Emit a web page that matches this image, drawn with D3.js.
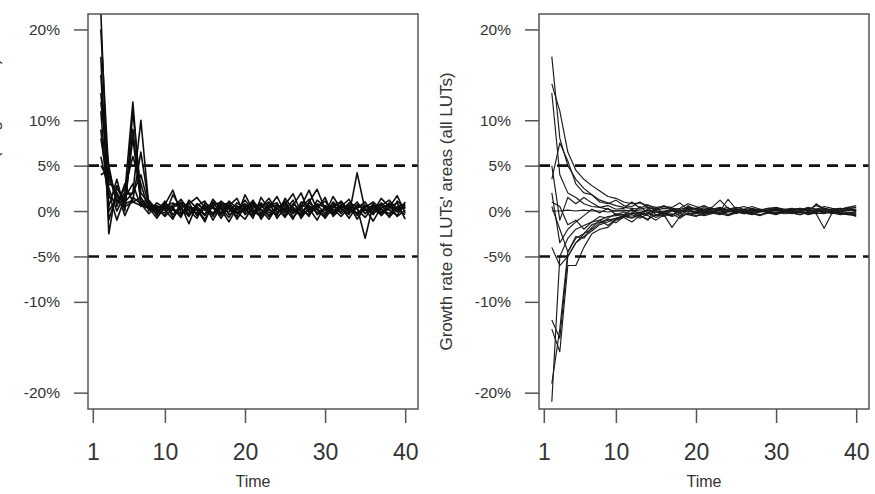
<!DOCTYPE html>
<html>
<head>
<meta charset="utf-8">
<script src="https://cdn.jsdelivr.net/npm/d3@7"></script>
<style>
body { margin: 0; background: #fff; }
svg { display: block; font-family: "Liberation Sans", Arial, sans-serif; }
</style>
</head>
<body>
<svg id="chart"></svg>
<script>
// time steps (growth rate from step t-1 to t)
const timeSteps = [2,3,4,5,6,7,8,9,10,11,12,13,14,15,16,17,18,19,20,21,
  22,23,24,25,26,27,28,29,30,31,32,33,34,35,36,37,38,39,40];
const xTicks = [1, 10, 20, 30, 40];
const yTicks = [-20, -10, -5, 0, 5, 10, 20];
const thresholds = [5, -5];

// left panel: growth rate per LUT (%)
const leftRates = [
  [22,-1.0,2.0,0.5,1.0,0.6,0.3,0.2,-0.5,1.8, 0.3,-0.6,0.8,0.1,-0.4,0.6,0.9,-0.2,0.4,-0.8, 1.5,0.2,-0.3,0.7,1.9,-0.1,0.5,0.3,-0.6,1.0, 0.2,-0.4,4.2,0.1,-0.3,0.6,1.2,0.2,0.5],
  [20,4.0,1.0,2.0,12.0,1.0,0.5,-0.3,0.8,0.4, -0.7,1.2,0.3,-0.5,0.9,-0.2,0.6,1.4,-0.4,0.3, 0.8,-0.6,0.2,1.1,-0.3,0.5,2.3,0.1,-0.5,0.6, 0.9,-0.2,0.4,-3.0,0.7,0.2,-0.6,1.1,0.3],
  [13,3.0,2.5,1.0,2.0,10.0,0.5,0.6,0.1,-0.9, 1.0,0.4,-0.3,0.7,-1.0,0.5,0.2,-0.6,1.8,0.1, -0.4,0.9,0.3,-0.7,0.6,2.0,-0.2,0.8,0.4,-0.3, 0.5,1.3,-0.5,0.6,0.2,-0.4,0.9,-0.1,0.7],
  [12,5.0,0.5,3.0,1.0,1.5,0.2,-0.2,1.1,-0.4, 0.6,-1.4,0.8,0.2,0.5,-0.5,1.1,0.3,-0.2,0.9, -0.9,0.4,1.6,-0.2,0.3,-0.6,1.0,2.4,0.2,-0.4, 0.6,0.1,1.0,-0.3,0.8,-0.5,0.4,1.7,-0.2],
  [9,0.5,3.5,0.0,11.0,2.0,0.8,0.4,-0.6,0.3, 1.3,0.1,-0.8,0.9,0.3,-0.3,0.7,-0.9,0.5,1.0, 0.2,-0.5,0.6,0.1,1.2,-0.8,0.4,0.2,1.5,-0.6, 0.3,0.7,-0.9,0.4,1.0,0.2,-0.3,0.5,0.8],
  [6,2.0,-1.0,1.5,3.0,0.5,1.0,-0.5,0.7,2.3, -0.2,0.5,0.1,-0.9,0.6,1.0,-0.4,0.2,0.8,-0.3, 0.5,1.0,-0.8,0.4,-0.2,0.7,0.3,-1.0,0.6,0.2, -0.6,0.4,0.3,1.0,-0.4,0.9,0.1,-0.5,1.0],
  [15,1.5,1.0,2.5,6.0,3.0,0.0,0.9,0.3,0.1, -0.5,0.8,1.5,0.4,-0.2,0.3,-0.7,0.6,0.0,1.2, -0.3,0.6,0.9,-0.5,0.8,0.1,-0.4,0.5,1.1,-0.2, 0.4,-0.8,0.6,0.2,-0.1,1.4,0.5,0.2,-0.4],
  [5,3.5,2.0,-0.5,1.5,0.8,0.4,-0.8,0.5,0.9, 0.2,-0.3,0.6,1.1,-0.6,0.8,0.3,-0.1,-0.9,0.5, 0.6,-0.2,0.2,0.9,-0.7,0.3,1.3,-0.4,0.1,0.8, -0.3,0.6,0.2,-0.7,0.5,0.3,0.8,-0.6,0.1],
  [11,0.0,1.5,1.0,8.0,1.0,1.2,0.1,-0.2,0.7, 0.9,-0.4,0.2,-1.2,1.0,0.4,-0.1,0.9,0.3,-0.5, 0.4,1.4,-0.1,0.3,-0.9,1.0,0.6,-0.2,0.3,0.5, -0.1,0.9,0.5,0.3,-1.1,0.4,0.6,0.0,0.4],
  [8,2.5,0.0,1.8,2.0,4.0,0.6,0.3,0.9,-0.7, 0.4,0.9,-0.5,0.3,0.6,-0.8,0.5,0.1,1.2,0.0, -0.6,0.3,0.7,-0.1,0.4,-0.3,0.9,0.2,-0.8,0.4, 1.1,0.0,-0.3,0.6,0.3,0.8,-0.7,0.3,0.6],
  [4,4.5,1.2,0.3,9.0,0.8,-0.3,0.5,0.4,0.2, -0.3,0.2,0.5,-0.4,1.3,0.2,-1.2,0.4,0.6,-0.1, 0.9,0.1,-0.5,1.4,0.2,-0.4,0.1,0.7,-0.3,1.6, 0.2,-0.3,0.7,0.5,0.3,-0.2,0.4,0.9,-0.9],
  [17,-2.5,2.8,0.8,1.2,6.5,0.7,-0.1,0.2,0.5, 0.8,0.0,-0.2,0.6,-0.3,1.1,0.4,-0.3,0.2,0.7, 0.1,-0.9,0.5,0.6,0.0,0.4,-0.6,1.2,0.5,0.0, 0.7,0.3,-0.2,0.1,0.6,-0.1,0.2,0.4,0.3]
];

// right panel: growth rate of LUTs' areas, all LUTs (%)
const rightRates = [
  [17,8,5,3.5,2.5,1.8,1.2,0.9,0.6,0.4, 0.3,0.2,0.4,0.1,0.3,0.2,0.0,0.3,0.2,0.1, 0.2,0.3,0.1,0.2,0.0,0.2,0.1,0.3,0.2,0.1, 0.2,0.1,0.3,0.2,0.1,0.2,0.3,0.1,0.2],
  [14,11,6.5,4.5,3.5,2.8,2.2,1.6,1.4,1.0, 0.8,0.9,0.6,0.4,0.5,0.3,0.2,0.4,0.3,0.2, 0.3,0.1,0.2,0.4,0.2,0.0,0.2,0.1,0.3,0.2, 0.1,0.2,0.0,0.2,0.3,0.1,0.2,0.3,0.4],
  [13,4,2,1.5,0.8,0.5,0.4,0.2,0.0,0.1, 0.0,-0.2,0.1,0.0,-0.1,0.1,0.0,-0.1,0.0,0.1, 0.0,0.1,-0.1,0.0,0.1,0.0,-0.1,0.0,0.1,0.0, -0.1,0.0,0.1,0.0,-0.1,0.1,0.0,0.0,0.1],
  [3.5,7.5,5.5,3.0,2.0,1.8,1.0,0.8,1.2,0.6, 0.5,1.0,0.4,0.2,0.6,0.1,0.3,0.8,0.5,0.2, 0.4,1.2,0.3,0.1,0.2,0.5,0.2,0.0,0.3,0.1, 0.2,0.3,0.1,0.6,0.3,0.0,0.2,0.4,0.1],
  [0.0,0.0,0.1,0.0,0.1,0.0,0.0,-0.1,0.0,0.0, 0.1,0.0,0.0,-0.1,0.0,0.1,0.0,0.0,-0.1,0.0, 0.0,0.1,0.0,0.0,-0.1,0.0,0.0,0.1,0.0,-0.1, 0.0,0.0,0.1,0.0,0.0,-0.1,0.0,0.1,0.0],
  [2,-3.5,-2,-1.2,-0.5,0.2,-0.2,0.3,-0.4,-0.1, -0.3,0.5,-0.2,0.1,-0.5,0.0,-0.1,0.2,-0.3,0.0, -0.2,0.1,-0.4,0.0,-0.3,-0.1,0.1,-0.2,-0.3,0.0, -0.2,-0.4,-0.1,-0.3,-1.9,-0.2,-0.4,-0.3,-0.6],
  [-21,-5,-3,-2,-1.6,-1.2,-1.0,-0.6,-0.5,-0.4, -0.3,-0.2,-0.3,-0.1,-0.2,-0.4,-0.1,0.0,-0.2,-0.1, -0.2,-0.1,0.0,-0.2,-0.1,-0.3,-0.1,0.0,-0.2,-0.1, -0.3,-0.1,-0.2,0.0,-0.2,-0.1,-0.3,-0.2,-0.1],
  [-19,-13,-4.5,-3,-2.5,-2,-1.3,-1.0,-0.8,-0.5, -0.7,-0.3,-0.5,-1.0,-0.4,-1.8,-0.6,-0.3,-0.2,-0.5, -0.3,-0.1,-0.4,-0.2,0.0,-0.3,-0.5,-0.2,-0.1,-0.3, -0.2,-0.4,-0.1,-0.3,-0.2,0.0,-0.3,-0.4,-0.5],
  [-12,-14,-5,-3.5,-2.8,-2.2,-1.5,-1.2,-0.8,-0.6, -0.4,-0.8,-0.3,-0.5,-0.2,-0.6,-0.3,-0.4,-0.1,-0.3, -0.2,-0.4,0.0,-0.1,-0.3,-0.2,0.1,-0.2,-0.4,-0.1, 0.0,-0.2,-0.3,-0.1,0.1,-0.2,-0.1,-0.3,-0.2],
  [-13,-15.5,-6,-6,-4,-2.5,-2.0,-1.8,-1.0,-0.7, -1.2,-0.5,-0.9,-0.4,-0.6,-0.3,-0.8,-0.2,-0.5,-0.4, -0.1,-0.3,-0.5,-0.2,0.1,-0.2,-0.4,-0.1,-0.3,0.0, -0.2,-0.1,-0.4,-0.2,-0.3,0.0,-0.2,-0.4,-0.3],
  [-4,-6,-5,-3.5,-2.5,-1.5,-1.2,-0.9,-1.3,-0.6, -0.8,-0.4,-0.2,-0.7,-0.3,-0.5,0.2,-0.4,-0.6,-0.2, 0.0,-0.3,-0.1,0.1,-0.2,-0.4,0.0,-0.1,-0.3,0.1, -0.1,0.0,-0.2,0.1,-0.1,-0.3,0.0,-0.2,-0.4],
  [0.5,-2,-4.5,-2.8,-3,-1.8,-1.0,-1.6,-0.9,-0.5, -0.2,-0.6,0.3,-0.4,-0.1,0.2,-0.3,0.6,0.1,-0.2, 0.3,0.0,1.3,0.2,-0.1,0.3,0.1,-0.2,0.2,0.0, 0.1,0.3,-0.1,0.8,0.2,0.0,0.3,0.1,0.2],
  [1.0,0.5,-1.5,-1.0,-2.0,-1.2,-0.6,-0.8,-0.3,-0.4, 0.2,-0.5,-1.0,0.4,-0.3,0.1,-0.6,0.3,-0.2,0.5, -0.1,0.2,0.4,-0.3,0.1,0.0,0.2,-0.1,0.3,0.1, 0.0,0.2,0.1,-0.2,0.3,0.1,0.0,0.2,-0.1],
  [5,-1,1.5,0.8,1.5,0.9,0.4,0.6,0.2,0.3, 1.0,0.3,0.7,0.2,0.5,0.4,0.9,0.1,0.3,0.6, 0.2,0.4,0.1,0.3,0.5,0.2,0.0,0.3,0.4,0.2, 0.3,0.1,0.4,0.2,0.5,0.3,0.2,0.4,0.6]
];

const width = 875;
const height = 494;
const svg = d3.select('#chart')
  .attr('width', width)
  .attr('height', height);

const plotTop = 14, plotBottom = 409;

// left panel's y title sits partly outside the picture, as in the original
const panels = [
  { left: 88, right: 418, data: leftRates, label: "Growth rate of LUTs' areas (single LUTs)", stroke: '#0d0d0d', lw: 1.6, titleX: -1 },
  { left: 539, right: 869, data: rightRates, label: "Growth rate of LUTs' areas (all LUTs)", stroke: '#1a1a1a', lw: 1.15, titleX: 452 }
];

panels.forEach(function(p, i) {
  const x = d3.scaleLinear().domain([0.4, 41.6]).range([p.left, p.right]);
  const y = d3.scaleLinear().domain([-21.8, 21.7]).range([plotBottom, plotTop]);
  const g = svg.append('g');

  svg.append('clipPath').attr('id', 'clip' + i)
    .append('rect')
    .attr('x', p.left).attr('y', plotTop)
    .attr('width', p.right - p.left).attr('height', plotBottom - plotTop);

  // series lines
  const line = d3.line()
    .x((d, k) => x(timeSteps[k]))
    .y(d => y(d));

  g.append('g').attr('clip-path', 'url(#clip' + i + ')')
    .selectAll('path')
    .data(p.data)
    .enter()
    .append('path')
    .attr('d', line)
    .attr('fill', 'none')
    .attr('stroke', p.stroke)
    .attr('stroke-width', p.lw)
    .attr('stroke-linejoin', 'round');

  // +-5% threshold lines
  g.selectAll('.thr')
    .data(thresholds)
    .enter()
    .append('line')
    .attr('x1', p.left).attr('x2', p.right)
    .attr('y1', d => y(d)).attr('y2', d => y(d))
    .attr('stroke', '#111')
    .attr('stroke-width', 2.6)
    .attr('stroke-dasharray', '11,7');

  // box
  g.append('rect')
    .attr('x', p.left).attr('y', plotTop)
    .attr('width', p.right - p.left).attr('height', plotBottom - plotTop)
    .attr('fill', 'none')
    .attr('stroke', '#555')
    .attr('stroke-width', 1.5);

  // axes
  const yAxis = g.append('g')
    .attr('transform', 'translate(' + p.left + ',0)')
    .call(d3.axisLeft(y).tickValues(yTicks).tickSize(14).tickPadding(14).tickFormat(d => d + '%'));
  yAxis.select('.domain').remove();
  yAxis.selectAll('line').attr('stroke', '#555').attr('stroke-width', 1.5);
  yAxis.selectAll('text').attr('font-size', 15.5).attr('fill', '#333')
    .attr('font-family', '"Liberation Sans", Arial, sans-serif');

  const xAxis = g.append('g')
    .attr('transform', 'translate(0,' + plotBottom + ')')
    .call(d3.axisBottom(x).tickValues(xTicks).tickSize(14).tickPadding(21));
  xAxis.select('.domain').remove();
  xAxis.selectAll('line').attr('stroke', '#555').attr('stroke-width', 1.5);
  xAxis.selectAll('text').attr('font-size', 23).attr('fill', '#333')
    .attr('font-family', '"Liberation Sans", Arial, sans-serif');

  // axis titles
  g.append('text')
    .attr('x', (p.left + p.right) / 2)
    .attr('y', 487)
    .attr('text-anchor', 'middle')
    .attr('font-size', 16)
    .attr('fill', '#333')
    .text('Time');

  g.append('text')
    .attr('transform', 'translate(' + p.titleX + ',' + ((plotTop + plotBottom) / 2) + ') rotate(-90)')
    .attr('text-anchor', 'middle')
    .attr('font-size', 17)
    .attr('fill', '#333')
    .text(p.label);
});
</script>
</body>
</html>
